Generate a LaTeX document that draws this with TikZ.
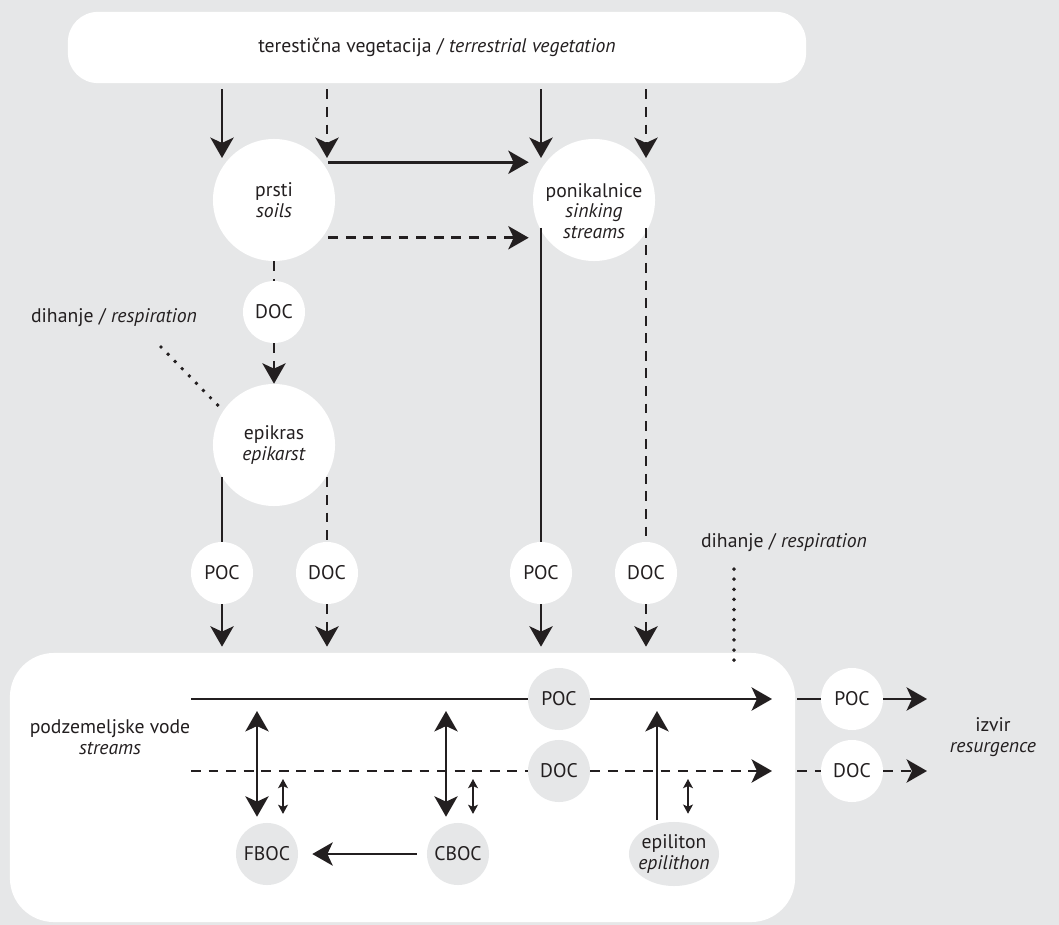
\documentclass[tikz,border=0pt]{standalone}
\usepackage{fontspec}
\setmainfont{PT Sans}
\usetikzlibrary{arrows.meta}
\usetikzlibrary{calc}
\usetikzlibrary{shapes.geometric}

\definecolor{bggray}{RGB}{230,231,232}
\definecolor{ink}{RGB}{35,31,32}

\tikzset{
  bigc/.style={circle,fill=white,minimum size=3.05cm,inner sep=0pt,align=center},
  smallc/.style={circle,fill=white,minimum size=1.55cm,inner sep=0pt},
  greyc/.style={smallc,fill=bggray},
  flowline/.style={draw=ink,line width=1.9pt},
  dashline/.style={flowline,dash pattern=on 7pt off 5.5pt},
  flow/.style={flowline,-{Stealth[length=14.5pt,width=16.5pt,inset=3.8pt]}},
  dflow/.style={dashline,-{Stealth[length=14.5pt,width=16.5pt,inset=3.8pt]}},
  twoway/.style={flowline,{Stealth[length=14.5pt,width=16.5pt,inset=3.8pt]}-{Stealth[length=14.5pt,width=16.5pt,inset=3.8pt]}},
  tinyway/.style={draw=ink,line width=1.1pt,{Stealth[length=6.5pt,width=7pt,inset=1.5pt]}-{Stealth[length=6.5pt,width=7pt,inset=1.5pt]}},
  dotline/.style={draw=ink,line width=2.8pt,line cap=round,dash pattern=on 0pt off 7.2pt}
}

\begin{document}
\begin{tikzpicture}[x=0.025cm,y=-0.025cm,font=\fontsize{14}{14.5}\selectfont,text=ink]
    \fill[bggray] (0,0) rectangle (1059,925);
    \useasboundingbox (0,0) rectangle (1059,925);

    \node[fill=white,rounded corners=0.75cm,minimum width=18.45cm,minimum height=1.78cm] (veg) at (437,47.5)
      {terestična vegetacija / \textit{terrestrial vegetation}};
    \node[fill=white,rounded corners=1.1cm,minimum width=19.625cm,minimum height=6.725cm] (bot) at (402.5,787.5) {};

    \node[bigc] (soils) at (274,200) {prsti\\\textit{soils}};
    \node[bigc] (sink) at (594,200) {};
    \node[align=center] at ($(sink)+(0,11)$) {ponikalnice\\\textit{sinking}\\\textit{streams}};
    \node[smallc] (docA) at (274,312) {DOC};
    \node[bigc] (epi) at (274,445) {epikras\\\textit{epikarst}};
    \node[smallc] (pocE) at (222,573) {POC};
    \node[smallc] (docE) at (327,573) {DOC};
    \node[smallc] (pocS) at (541,573) {POC};
    \node[smallc] (docS) at (646,573) {DOC};

    \node (respL) at (114,318) {dihanje / \textit{respiration}};
    \node (respR) at (784,543) {dihanje / \textit{respiration}};

    \node[align=center] (streams) at (110,737) {podzemeljske vode\\\textit{streams}};
    \node[greyc] (pocG) at (559,699) {POC};
    \node[greyc] (docG) at (559,771) {DOC};
    \node[greyc] (fboc) at (267,854) {FBOC};
    \node[greyc] (cboc) at (458,854) {CBOC};
    \node[ellipse,fill=bggray,minimum width=2.25cm,minimum height=1.6cm,inner sep=0pt] (epil) at (674,854) {};
    \node[align=center] at (epil) {epiliton\\\textit{epilithon}};

    \node[smallc] (pocR) at (852,699) {POC};
    \node[smallc] (docR) at (852,771) {DOC};
    \node[align=center] (izvir) at (993,737) {izvir\\\textit{resurgence}};

    \coordinate (inA) at (222,158);
    \coordinate (inB) at (327,158);
    \coordinate (inC) at (541,158);
    \coordinate (inD) at (646,158);
    \coordinate (respLend) at (161,347);
    \coordinate (respRend) at (734,664);
    \coordinate (lineP) at (191,699);
    \coordinate (lineD) at (191,771);
    \coordinate (endP) at (772,699);
    \coordinate (endD) at (772,771);
    \coordinate (outP) at (927,699);
    \coordinate (outD) at (927,771);
    \coordinate (fUp) at (257,711);
    \coordinate (cUp) at (446,711);
    \coordinate (eUp) at (657,711);
    \coordinate (fTiny) at (283,779);
    \coordinate (cTiny) at (473,779);
    \coordinate (eTiny) at (688,779);

    \draw[flow,shorten <=0.15cm] (veg.south -| inA) -- (inA);
    \draw[dflow,shorten <=0.15cm] (veg.south -| inB) -- (inB);
    \draw[flow,shorten <=0.15cm] (veg.south -| inC) -- (inC);
    \draw[dflow,shorten <=0.15cm] (veg.south -| inD) -- (inD);

    \draw[flow,shorten <=0.15cm,shorten >=0.1cm] (soils.38) -- (soils.38 -| sink.west);
    \draw[dflow,shorten <=0.15cm,shorten >=0.1cm] (soils.-38) -- (soils.-38 -| sink.west);

    \draw[dashline] (soils) -- (docA);
    \draw[dflow] (docA) -- (epi);

    \draw[flowline] (epi.-148 -| pocE) -- (pocE);
    \draw[dashline] (epi.-32 -| docE) -- (docE);
    \draw[flowline] (sink.-153 -| pocS) -- (pocS);
    \draw[dashline] (sink.-27 -| docS) -- (docS);

    \draw[flow,shorten >=0.15cm] (pocE) -- (pocE |- bot.north);
    \draw[dflow,shorten >=0.15cm] (docE) -- (docE |- bot.north);
    \draw[flow,shorten >=0.15cm] (pocS) -- (pocS |- bot.north);
    \draw[dflow,shorten >=0.15cm] (docS) -- (docS |- bot.north);

    \draw[dotline,shorten >=0.1cm] (respLend) -- (epi.146);
    \draw[dotline,shorten <=0.3cm] (respRend |- respR.south) -- (respRend);

    \draw[flowline] (lineP) -- (pocG);
    \draw[flow] (pocG) -- (endP);
    \draw[dashline] (lineD) -- (docG);
    \draw[dflow] (docG) -- (endD);

    \draw[flowline,shorten <=0.05cm] (bot.east |- pocR) -- (pocR);
    \draw[flow] (pocR) -- (outP);
    \draw[dashline,shorten <=0.05cm] (bot.east |- docR) -- (docR);
    \draw[dflow] (docR) -- (outD);

    \draw[twoway,shorten >=0.15cm] (fUp) -- (fUp |- fboc.north);
    \draw[twoway,shorten >=0.15cm] (cUp) -- (cUp |- cboc.north);
    \draw[tinyway,shorten >=0.22cm] (fTiny) -- (fTiny |- fboc.north);
    \draw[tinyway,shorten >=0.22cm] (cTiny) -- (cTiny |- cboc.north);
    \draw[tinyway,shorten >=0.2cm] (eTiny) -- (eTiny |- epil.north);

    \draw[flow,shorten <=0.25cm,shorten >=0.35cm] (cboc) -- (fboc);
    \draw[flow,shorten <=0.05cm] (eUp |- epil.north) -- (eUp);
\end{tikzpicture}
\end{document}
